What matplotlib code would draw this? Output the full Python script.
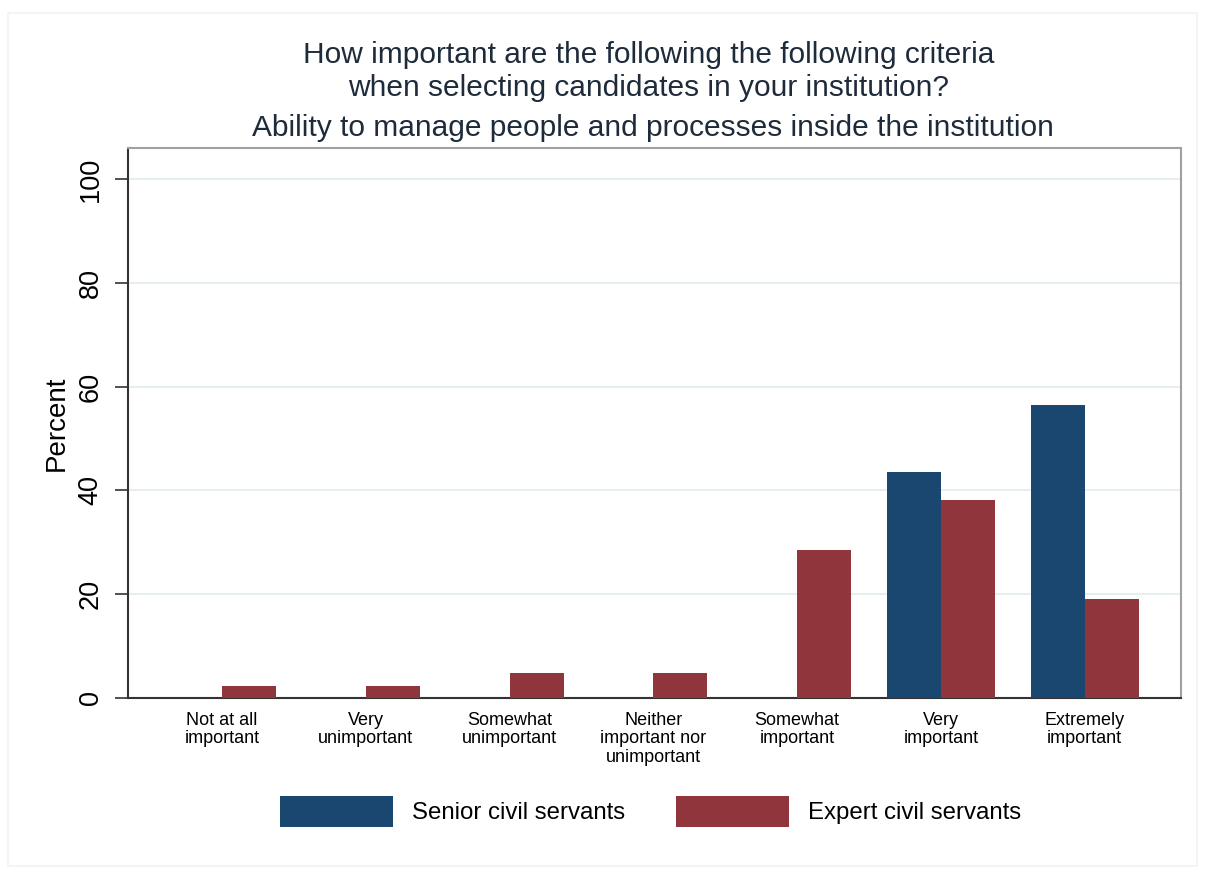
import numpy as np
import matplotlib.pyplot as plt
from matplotlib.patches import Rectangle

plt.rcParams['font.family'] = ['Liberation Sans', 'DejaVu Sans']

categories = ['Not at all\nimportant', 'Very\nunimportant', 'Somewhat\nunimportant',
              'Neither\nimportant nor\nunimportant', 'Somewhat\nimportant',
              'Very\nimportant', 'Extremely\nimportant']
senior = [0, 0, 0, 0, 0, 43.48, 56.52]
expert = [2.38, 2.38, 4.76, 4.76, 28.57, 38.10, 19.05]
series_names = ['Senior civil servants', 'Expert civil servants']
yticks = [0, 20, 40, 60, 80, 100]

navy = '#1a476f'
maroon = '#90353b'
grid_col = '#e6eef0'

fig = plt.figure(figsize=(12.05, 8.75), dpi=100)
fig.patch.set_facecolor('white')
fig.patches.append(Rectangle((0.007, 0.01), 0.986, 0.975, transform=fig.transFigure,
                             fill=False, edgecolor='#f2f2f2', lw=1.2))

ax = fig.add_axes([0.1062, 0.2023, 0.8739, 0.6286])
x = np.arange(len(categories))
w = 0.375
b1 = ax.bar(x - w / 2, senior, w, color=navy, label=series_names[0], zorder=3)
b2 = ax.bar(x + w / 2, expert, w, color=maroon, label=series_names[1], zorder=3)

ax.set_xlim(-0.655, 6.67)
ax.set_ylim(0, 106)
ax.set_yticks(yticks)
ax.set_yticklabels([str(t) for t in yticks], rotation=90, va='center', fontsize=19.5)
ax.tick_params(axis='y', length=9.5, width=1.2, color='#333333', pad=8)
ax.set_xticks(x)
ax.set_xticklabels(categories, fontsize=13, linespacing=1.12)
ax.tick_params(axis='x', length=0, pad=10)
ax.yaxis.grid(True, color=grid_col, lw=1.5, zorder=0)
ax.set_axisbelow(True)

for side in ['top', 'right']:
    ax.spines[side].set_color('#a0a0a0')
    ax.spines[side].set_linewidth(1.5)
ax.spines['left'].set_color('#333333')
ax.spines['left'].set_linewidth(1.5)
ax.spines['bottom'].set_color('#333333')
ax.spines['bottom'].set_linewidth(1.5)

ax.set_ylabel('Percent', fontsize=20, labelpad=6)

fig.text(0.538, 0.937, 'How important are the following the following criteria',
         ha='center', va='center', fontsize=21.5, color='#1e2b3a')
fig.text(0.538, 0.899, 'when selecting candidates in your institution?',
         ha='center', va='center', fontsize=21.5, color='#1e2b3a')
fig.text(0.542, 0.854, 'Ability to manage people and processes inside the institution',
         ha='center', va='center', fontsize=21.5, color='#1e2b3a')

fig.legend(handles=[b1, b2], labels=series_names, loc='center', bbox_to_anchor=(0.54, 0.073),
           ncol=2, frameon=False, fontsize=17.3, handlelength=4.7, handleheight=1.6,
           columnspacing=2.1, handletextpad=0.8)

plt.savefig('out.png', dpi=100)
